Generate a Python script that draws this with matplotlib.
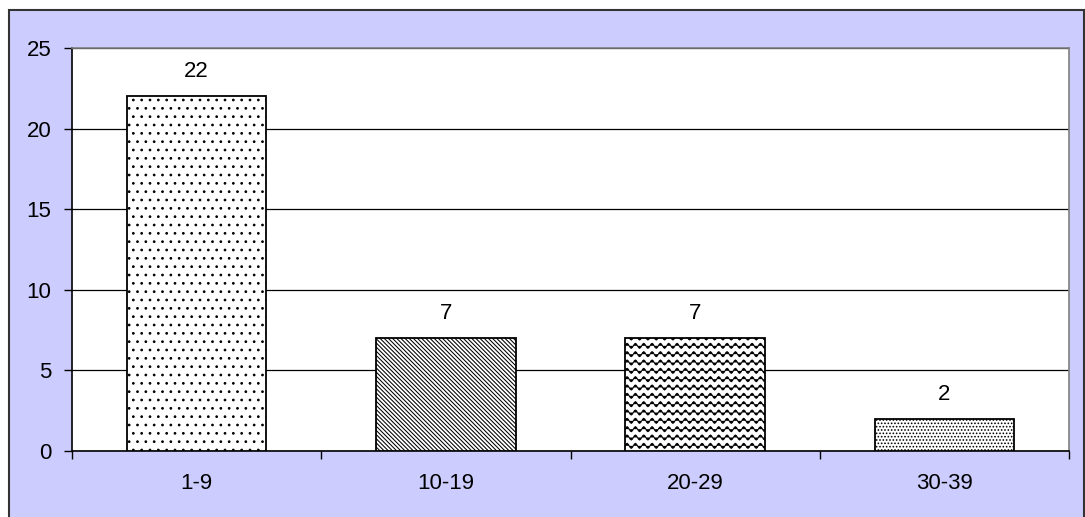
import warnings
import numpy as np
import matplotlib
matplotlib.use("Agg")
import matplotlib.pyplot as plt
from matplotlib import hatch as mhatch
from matplotlib.path import Path
from matplotlib.patches import Rectangle

warnings.filterwarnings("ignore")

# age groups and counts
groups = ["1-9", "10-19", "20-29", "30-39"]
counts = [22, 7, 7, 2]
fills = ["..", "\\" * 8, "~~", "....."]


# wavy fill pattern, one row of waves per step
class WaveHatch(mhatch.HatchPatternBase):
    periods = 12
    pts = 8

    def __init__(self, hatch, density):
        self.num_rows = int(hatch.count("~") * density)
        n = self.periods * self.pts + 1
        self.num_vertices = self.num_rows * n

    def set_vertices_and_codes(self, vertices, codes):
        if self.num_rows == 0:
            return
        n = self.periods * self.pts + 1
        xs = np.linspace(0.0, 1.0, n)
        step = 1.0 / self.num_rows
        amp = step * 0.3
        for i in range(self.num_rows):
            y0 = step * (i + 0.5)
            sl = slice(i * n, (i + 1) * n)
            vertices[sl, 0] = xs
            vertices[sl, 1] = y0 + amp * np.sin(2 * np.pi * self.periods * xs)
            codes[sl] = Path.LINETO
            codes[i * n] = Path.MOVETO


mhatch._hatch_types.append(WaveHatch)

plt.rcParams["font.family"] = ["Liberation Sans", "DejaVu Sans"]
plt.rcParams["hatch.linewidth"] = 0.75
plt.rcParams["hatch.color"] = "black"

fig = plt.figure(figsize=(10.85, 5.17), dpi=100)
fig.patch.set_facecolor("white")
fig.patches.append(Rectangle((9 / 1085, -0.02), 1075 / 1085, 1.02 - 10 / 517,
                             transform=fig.transFigure, facecolor="#ccccff",
                             edgecolor="#333333", linewidth=1.5, zorder=-10))

ax = fig.add_axes([72 / 1085, 66 / 517, 997 / 1085, 403 / 517])
ax.set_facecolor("white")

x = np.arange(len(groups))
bars = ax.bar(x, counts, width=0.56, color="white", edgecolor="black",
              linewidth=1.3, zorder=3)
for b, h in zip(bars, fills):
    b.set_hatch(h)

for xi, v in zip(x, counts):
    ax.annotate(str(v), (xi, v), xytext=(0, 10), textcoords="offset points",
                ha="center", va="bottom", fontsize=16)

ax.set_xlim(-0.5, len(groups) - 0.5)
ax.set_ylim(0, 25)
ax.set_yticks([0, 5, 10, 15, 20, 25])
ax.yaxis.grid(True, color="black", linewidth=0.9, zorder=0)
ax.set_axisbelow(True)

ax.set_xticks(x)
ax.set_xticklabels(groups)
ax.set_xticks(np.arange(len(groups) + 1) - 0.5, minor=True)
ax.tick_params(axis="x", which="major", length=0, pad=16, labelsize=16)
ax.tick_params(axis="x", which="minor", length=6, width=1, direction="out")
ax.tick_params(axis="y", length=6, width=1, direction="out", pad=9,
               labelsize=16)

ax.spines["left"].set_color("black")
ax.spines["bottom"].set_color("black")
ax.spines["top"].set_color("#808080")
ax.spines["right"].set_color("#808080")
for s in ax.spines.values():
    s.set_linewidth(1.2)

fig.savefig("out.png", dpi=100)
